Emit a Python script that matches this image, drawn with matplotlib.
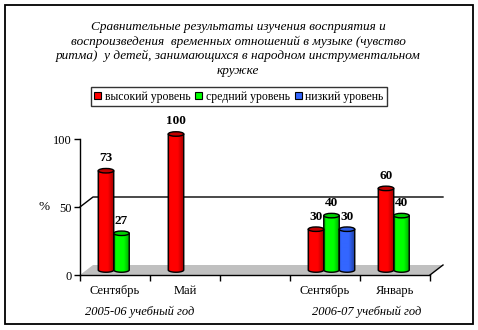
import numpy as np
import matplotlib
matplotlib.use("Agg")
import matplotlib.pyplot as plt
from matplotlib.patches import Ellipse, PathPatch, Polygon, Rectangle, Patch
from matplotlib.path import Path
from matplotlib.colors import LinearSegmentedColormap

# ---- data -------------------------------------------------------------
months = ["Сентябрь", "Май", "", "Сентябрь", "Январь"]
series_names = ["высокий уровень", "средний уровень", "низкий уровень"]
high = [73, 100, None, 30, 60]
medium = [27, None, None, 40, 40]
low = [None, None, None, 30, None]
years = ["2005-06 учебный год", "2006-07 учебный год"]
title = ("Сравнительные результаты изучения восприятия и\n"
         "воспроизведения  временных отношений в музыке (чувство\n"
         "ритма)  у детей, занимающихся в народном инструментальном\n"
         "кружке")

# ---- style ------------------------------------------------------------
base_cols = ["#FF0000", "#00FF00", "#3366FF"]
dark_cols = ["#A00000", "#00A000", "#1F3F9F"]
top_cols = ["#C00000", "#00D000", "#2D5AE0"]
serif = ["Liberation Serif", "DejaVu Serif"]
plt.rcParams["font.family"] = serif

W, H = 478, 330
fig = plt.figure(figsize=(W / 100, H / 100), dpi=100)
fig.patch.set_facecolor("white")

# outer frame of the chart
fig.add_artist(Rectangle((5 / W, 6 / H), 468 / W, 319 / H, transform=fig.transFigure,
                         fill=False, edgecolor="black", linewidth=1.3))

# plot area: x in category units, y in percent
ymax = 115
px_per_unit = 1.36
ax = fig.add_axes([80 / W, (H - 275) / H, 350 / W, ymax * px_per_unit / H])
ax.set_xlim(0, 5)
ax.set_ylim(0, ymax)
ax.patch.set_visible(False)
for s in ("top", "right"):
    ax.spines[s].set_visible(False)
ax.spines["left"].set_bounds(0, 100)
ax.spines["left"].set_linewidth(1.0)
ax.spines["bottom"].set_linewidth(1.0)

ax.set_yticks([0, 50, 100])
ax.set_yticklabels(["0", "50", "100"], fontsize=9)
ax.set_xticks(np.arange(0, 6))
ax.set_xticklabels([])
ax.set_xticks(np.arange(len(months)) + 0.5, minor=True)
ax.set_xticklabels(months, minor=True, fontsize=9)
ax.tick_params(axis="y", direction="out", length=4, width=1, pad=2)
ax.tick_params(axis="x", which="major", direction="out", length=4, width=1)
ax.tick_params(axis="x", which="minor", length=0, pad=7)

# depth offsets of the 3-D box (back wall relative to the front plane)
ddx = 13 / 70
ddy = 10 / px_per_unit
ncat = len(months)

# floor
ax.add_patch(Polygon([(0, 0), (ncat, 0), (ncat + ddx, ddy), (ddx, ddy)], closed=True,
                     facecolor="#C0C0C0", edgecolor="none", zorder=1, clip_on=False))
ax.plot([ncat, ncat + ddx], [0, ddy], color="black", lw=1.0, zorder=2, clip_on=False)

# gridline at 50 on the back wall
ax.plot([0, ddx, ncat + ddx], [50, 50 + ddy, 50 + ddy], color="black", lw=1.0,
        zorder=1, clip_on=False)

# cylinders
bw = 15.5 / 70
group_w = 3 * bw
off_x = 0.5 - group_w / 2 + ddx / 2
y0 = ddy / 2
eh = 4.5 / px_per_unit

grad = np.linspace(0, 1, 64).reshape(1, -1)
for j, vals in enumerate([high, medium, low]):
    cmap = LinearSegmentedColormap.from_list(
        f"cyl{j}", [(0, dark_cols[j]), (0.12, base_cols[j]), (0.35, base_cols[j]),
                    (0.62, base_cols[j]), (1.0, dark_cols[j])])
    for i, v in enumerate(vals):
        if v is None:
            continue
        x0 = i + off_x + j * bw
        yt = y0 + v
        # body outline: straight sides, rounded bottom
        t = np.linspace(np.pi, 2 * np.pi, 30)
        bx = x0 + bw / 2 + bw / 2 * np.cos(t)
        by = y0 + eh / 2 * np.sin(t)
        verts = [(x0, yt)] + list(zip(bx, by)) + [(x0 + bw, yt), (x0, yt)]
        codes = [Path.MOVETO] + [Path.LINETO] * (len(verts) - 2) + [Path.CLOSEPOLY]
        body = PathPatch(Path(verts, codes), facecolor="none", edgecolor="black",
                         lw=1.0, zorder=4)
        ax.add_patch(body)
        im = ax.imshow(grad, cmap=cmap, extent=(x0, x0 + bw, y0 - eh, yt),
                       aspect="auto", zorder=3, interpolation="bilinear")
        im.set_clip_path(body)
        ax.add_patch(Ellipse((x0 + bw / 2, yt), bw, eh, facecolor=top_cols[j],
                             edgecolor="black", lw=1.0, zorder=5))
        ax.annotate(str(v), (x0 + bw / 2, yt), xytext=(0, 9), textcoords="offset points",
                    ha="center", va="center", fontsize=9.5, fontweight="bold", zorder=6)

ax.set_xlim(0, 5)
ax.set_ylim(0, ymax)

# texts
fig.text(238 / W, 1 - 49 / H, title, ha="center", va="center", fontsize=9.5,
         style="italic", linespacing=1.25)
fig.text(44 / W, 1 - 207 / H, "%", ha="center", va="center", fontsize=9.5)
fig.text(140 / W, 1 - 312 / H, years[0], ha="center", va="center", fontsize=9,
         style="italic")
fig.text(367 / W, 1 - 312 / H, years[1], ha="center", va="center", fontsize=9,
         style="italic")

handles = [Patch(facecolor=c, edgecolor="black", lw=0.8) for c in base_cols]
leg = fig.legend(handles, series_names, loc="center", bbox_to_anchor=(239 / W, 1 - 96.5 / H),
                 ncol=3, fontsize=8.5, frameon=True, fancybox=False, handlelength=0.6,
                 handleheight=0.6, handletextpad=0.3, columnspacing=0.4, borderpad=0.3,
                 borderaxespad=0)
leg.get_frame().set_edgecolor("black")
leg.get_frame().set_linewidth(1.0)

fig.savefig("out.png", dpi=100)
